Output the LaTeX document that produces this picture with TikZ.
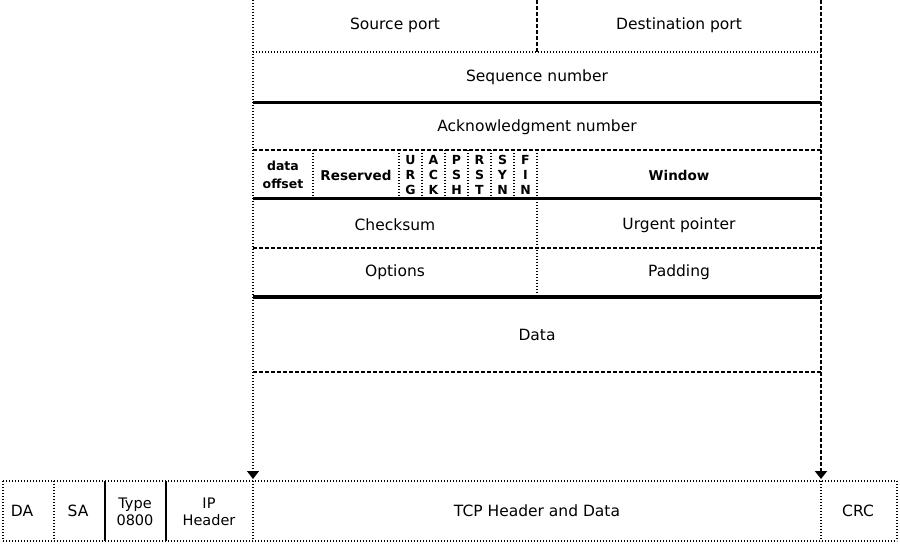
\documentclass[tikz,border=0pt]{standalone}
\usepackage{fontspec}
\setmainfont{DejaVu Sans}
\usetikzlibrary{arrows.meta}
\begin{document}
\begin{tikzpicture}[x=1pt,y=-1pt,
  dotln/.style={line width=1.2pt, dash pattern=on 1.2pt off 1.8pt},
  dashln/.style={line width=1.6pt, dash pattern=on 4pt off 2pt},
  thickln/.style={line width=3pt},
  thickdash/.style={line width=2.6pt, dash pattern=on 4pt off 2pt},
  lbl/.style={font=\fontsize{15.5}{18}\selectfont, inner sep=0pt},
  blbl/.style={font=\fontsize{13.5}{16}\selectfont\bfseries, inner sep=0pt, align=center},
  smlbl/.style={font=\fontsize{12.5}{18}\selectfont\bfseries, inner sep=0pt, align=center},
  flag/.style={font=\fontsize{12.5}{15}\selectfont\bfseries, inner sep=0pt, align=center},
  two/.style={font=\fontsize{14.5}{17}\selectfont, inner sep=0pt, align=center},
  conn/.style={dotln, -{Triangle[width=12pt,length=8pt]}}]
\useasboundingbox[fill=white] (0,0) rectangle (900,548);

% ---- TCP header box ----
\draw[dotln] (253,0) -- (253,372);
\draw[thickdash] (821,0) -- (821,372);
\draw[thickdash] (537,0) -- (537,52);
\draw[dotln] (253,52) -- (821,52);
\draw[thickln] (253,103) -- (821,103);
\draw[dashln] (253,150) -- (821,150);
\draw[thickln] (253,199) -- (821,199);
\draw[dashln] (253,248) -- (821,248);
\draw[line width=4pt] (253,297) -- (821,297);
\draw[dashln] (253,372) -- (821,372);
\foreach \x in {313,399,422,445,468,491,514,537}
  \draw[dotln] (\x,150) -- (\x,199);
\draw[dotln] (537,199) -- (537,297);

% ---- TCP header texts ----
\node[lbl] (src) at (395,25) {Source port};
\node[lbl] (dst) at (679,25) {Destination port};
\node[lbl] (seq) at (537,77) {Sequence number};
\node[lbl] (ack) at (537,127) {Acknowledgment number};
\node[smlbl] (doff) at (283,175) {data\\offset};
\node[blbl] (res) at (356,175) {Reserved};
\node[flag] (urg) at (410.5,175) {U\\R\\G};
\node[flag] (ackf) at (433.5,175) {A\\C\\K};
\node[flag] (psh) at (456.5,175) {P\\S\\H};
\node[flag] (rst) at (479.5,175) {R\\S\\T};
\node[flag] (syn) at (502.5,175) {S\\Y\\N};
\node[flag] (fin) at (525.5,175) {F\\I\\N};
\node[blbl] (win) at (679,175) {Window};
\node[lbl] (chk) at (395,225) {Checksum};
\node[lbl] (urp) at (679,225) {Urgent pointer};
\node[lbl] (opt) at (395,272) {Options};
\node[lbl] (pad) at (679,272) {Padding};
\node[lbl] (dat) at (537,335) {Data};

% ---- Ethernet frame ----
\draw[dotln] (3,481) -- (897,481);
\draw[dotln, line width=1.6pt] (3,541) -- (897,541);
\foreach \x in {3,54,253,821,897}
  \draw[dotln] (\x,481) -- (\x,541);
\draw[line width=2.5pt] (105,481) -- (105,541);
\draw[line width=2.5pt] (166,481) -- (166,541);

\node[lbl] (da) at (22,511) {DA};
\node[lbl] (sa) at (78,511) {SA};
\node[two] (typ) at (135,512) {Type\\0800};
\node[two] (iph) at (209,512) {IP\\Header};
\node[lbl] (tcp) at (537,511) {TCP Header and Data};
\node[lbl] (crc) at (858,511) {CRC};

% ---- connectors ----
\coordinate (ltop) at (253,372);
\coordinate (rtop) at (821,372);
\coordinate (lbot) at (253,479);
\coordinate (rbot) at (821,479);
\draw[conn] (ltop) -- (lbot);
\draw[conn, thickdash] (rtop) -- (rbot);
\end{tikzpicture}
\end{document}
